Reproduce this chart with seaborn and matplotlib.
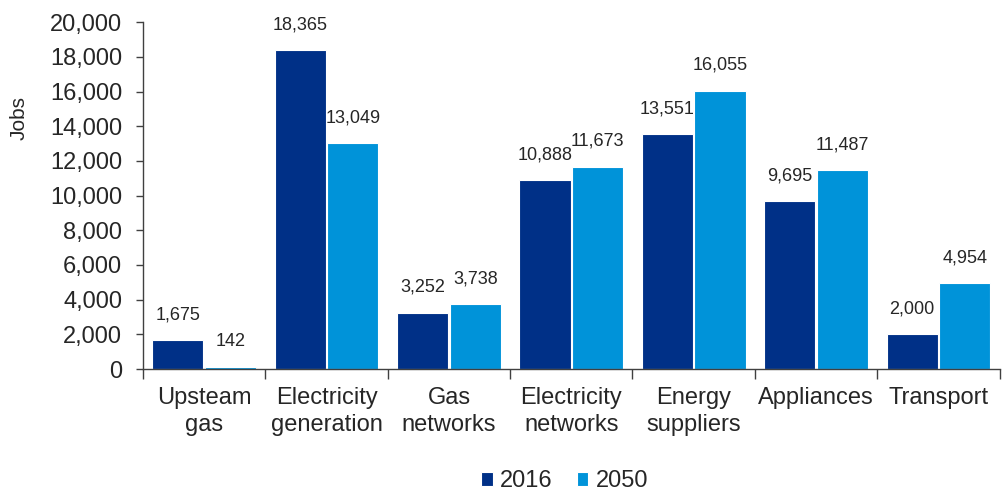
import numpy as np
import pandas as pd
import matplotlib
matplotlib.use("Agg")
import matplotlib.pyplot as plt
import matplotlib.ticker as mticker
import seaborn as sns

# Data
categories = ["Upsteam\ngas", "Electricity\ngeneration", "Gas\nnetworks", "Electricity\nnetworks",
              "Energy\nsuppliers", "Appliances", "Transport"]
jobs_2016 = [1675, 18365, 3252, 10888, 13551, 9695, 2000]
jobs_2050 = [142, 13049, 3738, 11673, 16055, 11487, 4954]
years = ["2016", "2050"]
colours = ["#003087", "#0093D9"]

df = pd.DataFrame({
    "Sector": categories * 2,
    "Year": [years[0]] * len(categories) + [years[1]] * len(categories),
    "Jobs": jobs_2016 + jobs_2050,
})

sns.set_style("white")
plt.rcParams["font.family"] = ["Liberation Sans", "DejaVu Sans"]
plt.rcParams["text.color"] = "#262626"

fig = plt.figure(figsize=(10.03, 4.92), dpi=100)
ax = fig.add_axes([0.1426, 0.25, 0.854, 0.705])

sns.barplot(data=df, x="Sector", y="Jobs", hue="Year", palette=colours, saturation=1,
            width=0.86, gap=0.03, edgecolor="white", linewidth=0.8, ax=ax)

for cont in ax.containers:
    ax.bar_label(cont, labels=[f"{v:,.0f}" for v in cont.datavalues],
                 padding=12, fontsize=13, color="#262626")

ax.set_ylim(0, 20000)
ax.set_xlim(-0.5, len(categories) - 0.5)
ax.yaxis.set_major_locator(mticker.MultipleLocator(2000))
ax.yaxis.set_major_formatter(mticker.FuncFormatter(lambda v, p: f"{v:,.0f}"))
ax.set_xlabel("")
ax.set_ylabel("Jobs", fontsize=15)
ax.yaxis.set_label_coords(-0.133, 0.725)

ax.tick_params(axis="y", which="major", length=5, width=1, color="#404040", pad=10,
               labelsize=17, labelcolor="#262626", direction="out", left=True)
ax.tick_params(axis="x", which="major", length=0, labelsize=17, labelcolor="#262626", pad=13)
for lbl in ax.get_xticklabels():
    lbl.set_linespacing(1.3)
ax.set_xticks(np.arange(-0.5, len(categories)), minor=True)
ax.tick_params(axis="x", which="minor", length=7, width=1, color="#404040", direction="out", bottom=True)

sns.despine(ax=ax)
for s in ["left", "bottom"]:
    ax.spines[s].set_color("#404040")
    ax.spines[s].set_linewidth(1)

ax.legend(title=None, loc="center", bbox_to_anchor=(0.563, 0.022), bbox_transform=fig.transFigure,
          ncol=2, frameon=False, fontsize=17, handlelength=0.5, handleheight=0.5,
          handletextpad=0.3, columnspacing=1.0)

fig.savefig("out.png", dpi=100)
